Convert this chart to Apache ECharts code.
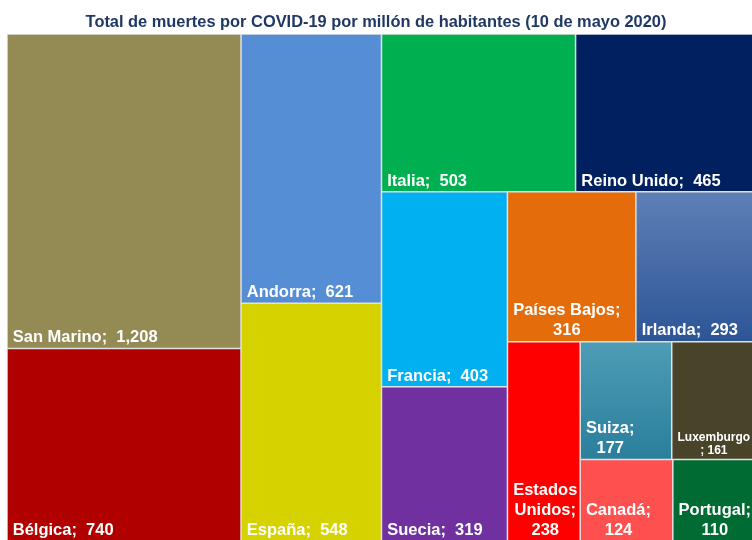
<!DOCTYPE html>
<html>
<head>
<meta charset="utf-8">
<script src="https://cdn.jsdelivr.net/npm/echarts@6/dist/echarts.min.js"></script>
<style>
  html, body { margin: 0; padding: 0; background: #fff; }
  #chart { width: 752px; height: 540px; }
</style>
</head>
<body>
<div id="chart"></div>
<script>
const titleText = "Total de muertes por COVID-19 por millón de habitantes (10 de mayo 2020)";

const names = ["San Marino", "Bélgica", "Andorra", "España", "Italia", "Reino Unido", "Francia",
  "Suecia", "Países Bajos", "Irlanda", "Estados Unidos", "Suiza", "Luxemburgo", "Canadá", "Portugal"];
const values = [1208, 740, 621, 548, 503, 465, 403, 319, 316, 293, 238, 177, 161, 124, 110];
const colors = ["#948A54", "#B00000", "#558ED5", "#D6D200", "#00B050", "#002060", "#00B0F0",
  "#7030A0", "#E46C0A", ["#5E7FB6", "#2D5596"], "#FF0000", ["#4E9CB6", "#2A7F9C"], "#494429", "#FF5050", "#006B32"];
// how Excel broke each label ({v} = value)
const labelTexts = ["San Marino;  {v}", "Bélgica;  {v}", "Andorra;  {v}", "España;  {v}", "Italia;  {v}",
  "Reino Unido;  {v}", "Francia;  {v}", "Suecia;  {v}", "Países Bajos;\n{v}", "Irlanda;  {v}",
  "Estados\nUnidos;\n{v}", "Suiza;\n{v}", "Luxemburgo\n; {v}", "Canadá;\n{v}", "Portugal;\n{v}"];
// nesting that reproduces the Excel tiling (indices into names)
const layoutTree = [[0, 1], [[2, 3], [[4, 5], [[6, 7], [[8, 9], [10, [[11, 12], [13, 14]]]]]]]];

const FONT = "Liberation Sans";
const BIG = 16.5;
const SMALL = 12;

const measureCtx = document.createElement("canvas").getContext("2d");
function textWidth(str, size) {
  measureCtx.font = `bold ${size}px "${FONT}"`;
  return Math.max(...str.split("\n").map((l) => measureCtx.measureText(l).width));
}

function labelString(i) {
  return labelTexts[i].replace("{v}", values[i].toLocaleString("en-US"));
}

function leafColor(c) {
  if (typeof c === "string") return c;
  return new echarts.graphic.LinearGradient(0, 0, 0, 1, [
    { offset: 0, color: c[0] },
    { offset: 1, color: c[1] },
  ]);
}

function buildNode(n) {
  if (typeof n === "number") {
    const txt = labelString(n);
    const small = names[n] === "Luxemburgo";
    const size = small ? SMALL : BIG;
    const label = { formatter: txt, fontSize: size, lineHeight: small ? 13 : 20 };
    if (txt.includes("\n")) {
      // lines centred on each other, block kept at the left like Excel
      label.align = "center";
      label.offset = [textWidth(txt, size) / 2, small ? 3 : 5];
    }
    return {
      name: names[n],
      value: values[n],
      label: label,
      itemStyle: { color: leafColor(colors[n]), borderWidth: 0.75, borderColor: "#e2e2e2" },
    };
  }
  return { name: "", children: n.map(buildNode) };
}

const chart = echarts.init(document.getElementById("chart"));
chart.setOption({
  animation: false,
  title: {
    text: titleText,
    left: "center",
    top: 9,
    textStyle: { color: "#1F3864", fontSize: 16.4, fontWeight: "bold", fontFamily: FONT },
  },
  series: [
    {
      type: "treemap",
      left: 7,
      top: 34,
      right: -3,
      bottom: -1,
      roam: false,
      nodeClick: false,
      sort: false,
      squareRatio: 0.8,
      breadcrumb: { show: false },
      itemStyle: { borderWidth: 0, gapWidth: 0, borderColor: "#e2e2e2" },
      upperLabel: { show: false },
      label: {
        show: true,
        position: "insideBottomLeft",
        distance: 5,
        padding: 0,
        offset: [0, 5],
        overflow: "none",
        color: "#fff",
        fontFamily: FONT,
        fontWeight: "bold",
        fontSize: BIG,
        lineHeight: 20,
      },
      data: layoutTree.map(buildNode),
    },
  ],
});
</script>
</body>
</html>
